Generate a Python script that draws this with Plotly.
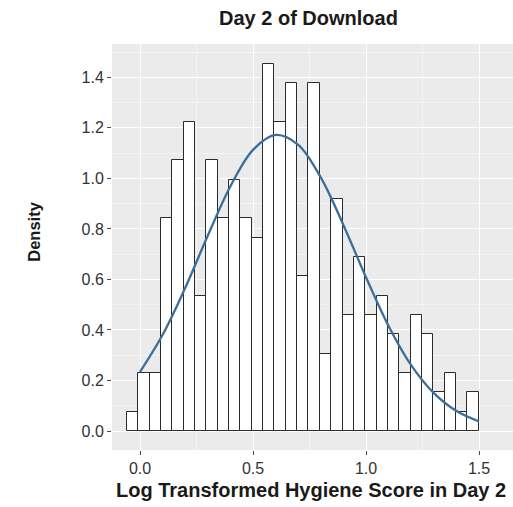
import plotly.graph_objects as go

# Histogram of log-transformed hygiene scores (density scale)
bin_start = -0.058
bin_width = 0.0502
density = [0.077, 0.230, 0.230, 0.842, 1.071, 1.224, 0.536, 1.071, 0.842, 0.995,
           0.842, 0.765, 1.454, 1.224, 1.377, 0.612, 1.377, 0.306, 0.918, 0.459,
           0.689, 0.459, 0.536, 0.383, 0.230, 0.459, 0.383, 0.153, 0.230, 0.077,
           0.153]

# Fitted normal density curve
curve_x = [0.0, 0.1, 0.2, 0.3, 0.4, 0.5, 0.6, 0.7, 0.8, 0.9, 1.0, 1.1, 1.2, 1.3, 1.4, 1.5]
curve_y = [0.234, 0.381, 0.567, 0.774, 0.969, 1.113, 1.172, 1.133, 1.003, 0.815,
           0.608, 0.415, 0.260, 0.150, 0.079, 0.038]

x_ticks = [0.0, 0.5, 1.0, 1.5]
x_ticklabels = ["0.0", "0.5", "1.0", "1.5"]
y_ticks = [0.0, 0.2, 0.4, 0.6, 0.8, 1.0, 1.2, 1.4]
y_ticklabels = ["0.0", "0.2", "0.4", "0.6", "0.8", "1.0", "1.2", "1.4"]

centers = [bin_start + bin_width * (i + 0.5) for i in range(len(density))]

fig = go.Figure()
fig.add_trace(go.Bar(
    x=centers, y=density, width=bin_width,
    marker=dict(color="white", line=dict(color="#2b2b2b", width=1)),
    hoverinfo="skip",
))
fig.add_trace(go.Scatter(
    x=curve_x, y=curve_y, mode="lines",
    line=dict(color="#3b6e98", width=2.3, shape="spline", smoothing=1.0),
    hoverinfo="skip",
))

tick_font = dict(family="Liberation Sans, Arial, sans-serif", size=16, color="#333333")
title_font = dict(family="Liberation Sans, Arial, sans-serif", color="#1a1a1a")

fig.update_layout(
    width=513, height=507,
    margin=dict(l=112, r=0, t=44, b=57),
    paper_bgcolor="white",
    plot_bgcolor="#ebebeb",
    showlegend=False,
    bargap=0,
    xaxis=dict(
        range=[-0.124, 1.650],
        tickvals=x_ticks, ticktext=x_ticklabels,
        ticks="outside", ticklen=4, tickcolor="#4d4d4d", tickwidth=1,
        tickfont=tick_font,
        showgrid=True, gridcolor="white", gridwidth=1.2,
        minor=dict(dtick=0.25, tick0=0.25, showgrid=True, gridcolor="#f4f4f4", gridwidth=0.8),
        zeroline=False, showline=False,
    ),
    yaxis=dict(
        range=[-0.075, 1.532],
        tickvals=y_ticks, ticktext=y_ticklabels,
        ticks="outside", ticklen=4, tickcolor="#4d4d4d", tickwidth=1,
        tickfont=tick_font,
        showgrid=True, gridcolor="white", gridwidth=1.2,
        minor=dict(dtick=0.1, tick0=0.1, showgrid=True, gridcolor="#f4f4f4", gridwidth=0.8),
        zeroline=False, showline=False,
    ),
    annotations=[
        dict(text="<b>Day 2 of Download</b>", xref="paper", yref="paper",
             x=0.489, y=1.064, xanchor="center", yanchor="middle", showarrow=False,
             font=dict(size=20, **title_font)),
        dict(text="<b>Log Transformed Hygiene Score in Day 2</b>", xref="paper", yref="paper",
             x=0.497, y=-0.099, xanchor="center", yanchor="middle", showarrow=False,
             font=dict(size=20, **title_font)),
        dict(text="<b>Density</b>", xref="paper", yref="paper",
             x=-0.195, y=0.537, xanchor="center", yanchor="middle", showarrow=False,
             textangle=-90, font=dict(size=16.5, **title_font)),
    ],
)

fig.write_html("out.html")
